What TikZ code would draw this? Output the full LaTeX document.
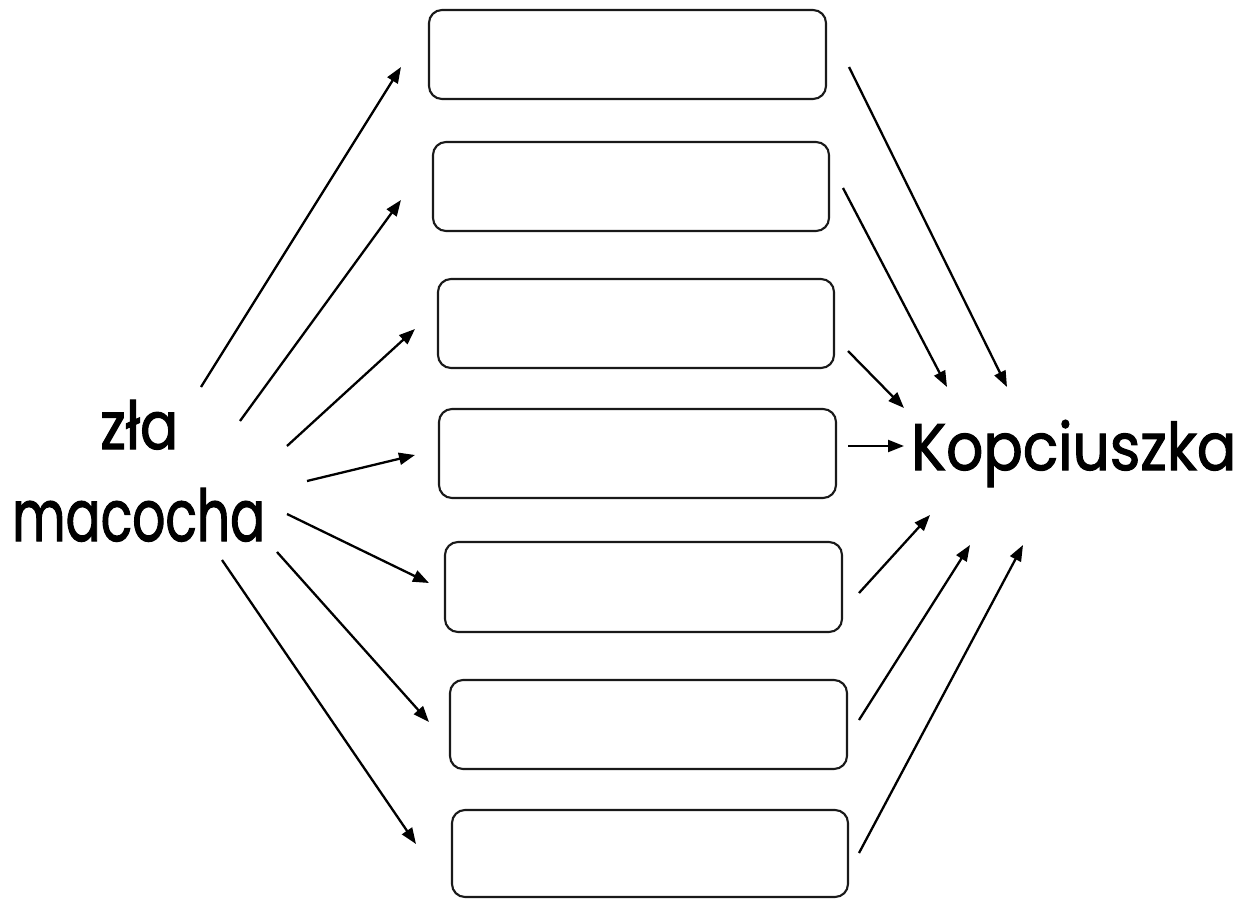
\documentclass[tikz,border=0pt]{standalone}
\usepackage{fontspec}
\setmainfont{Poppins}
\newfontfamily\cfont{Poppins}[FakeBold=1.8]
\usetikzlibrary{arrows.meta}
\tikzset{
  x=1pt,y=-1pt,
  box/.style={draw=black!90,line width=2.1pt,rounded corners=13pt,inner sep=0pt},
  arr/.style={line width=2.3pt,-{Triangle[length=16pt,width=12pt]}},
  lbl/.style={inner sep=0pt,anchor=base west,font=\cfont\fontsize{60}{60}\selectfont}
}
\newcommand{\mkbox}[5]{\node[box,minimum width={#4-#2},minimum height={#5-#3}] (#1) at ({(#2+#4)/2},{(#3+#5)/2}) {};}
\begin{document}
\begin{tikzpicture}
\useasboundingbox[fill=white] (0,0) rectangle (1248,899);
% boxes
\mkbox{b1}{429}{10}{826}{99}
\mkbox{b2}{433}{142}{829}{231}
\mkbox{b3}{438}{279}{834}{368}
\mkbox{b4}{439}{409}{836}{498}
\mkbox{b5}{445}{542}{842}{632}
\mkbox{b6}{450}{680}{847}{769}
\mkbox{b7}{452}{810}{848}{897}
% labels
\node[lbl] (zla) at (100,449) {\resizebox{78pt}{49pt}{zła}};
\node[lbl] (macocha) at (12,541) {\resizebox{253pt}{53pt}{macocha}};
\node[lbl] (kop) at (911,470) {\resizebox{325pt}{50pt}{Kopciuszka}};
% left arrow endpoints
\coordinate (s1) at (201,387); \coordinate (e1) at (401,67);
\coordinate (s2) at (240,421); \coordinate (e2) at (401,200);
\coordinate (s3) at (287,446); \coordinate (e3) at (415,329);
\coordinate (s4) at (307,481); \coordinate (e4) at (415,455);
\coordinate (s5) at (287,514); \coordinate (e5) at (429,583);
\coordinate (s6) at (277,552); \coordinate (e6) at (429,722);
\coordinate (s7) at (222,560); \coordinate (e7) at (416,844);
\foreach \i in {1,...,7} {\draw[arr] (s\i) -- (e\i);}
% right arrow endpoints
\coordinate (r1) at (849,67);  \coordinate (k1) at (1007,387);
\coordinate (r2) at (843,188); \coordinate (k2) at (947,387);
\coordinate (r3) at (848,351); \coordinate (k3) at (904,408);
\coordinate (r4) at (848,446); \coordinate (k4) at (904,446);
\coordinate (r5) at (859,593); \coordinate (k5) at (930,515);
\coordinate (r6) at (859,720); \coordinate (k6) at (970,545);
\coordinate (r7) at (859,853); \coordinate (k7) at (1023,545);
\foreach \i in {1,...,7} {\draw[arr] (r\i) -- (k\i);}
\end{tikzpicture}
\end{document}
